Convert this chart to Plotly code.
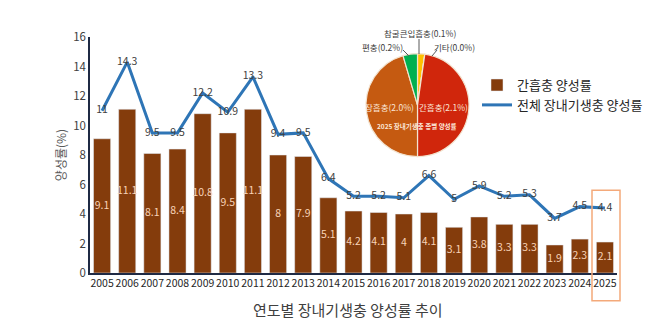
import plotly.graph_objects as go

years = [str(y) for y in range(2005, 2026)]
clonorchis = [9.1, 11.1, 8.1, 8.4, 10.8, 9.5, 11.1, 8, 7.9, 5.1, 4.2, 4.1, 4, 4.1, 3.1, 3.8, 3.3, 3.3, 1.9, 2.3, 2.1]
total = [11, 14.3, 9.5, 9.5, 12.2, 10.9, 13.3, 9.4, 9.5, 6.4, 5.2, 5.2, 5.1, 6.6, 5, 5.9, 5.2, 5.3, 3.7, 4.5, 4.4]

pie_labels = ["참굴큰입흡충", "기타", "간흡충", "장흡충", "편충"]
pie_values = [0.1, 0.0, 2.1, 2.0, 0.2]
pie_colors = ["#ffc000", "#a5a5a5", "#d0260c", "#c55a11", "#00b050"]

FONT = "Noto Sans CJK KR"

# pixel -> paper helpers (plot area: x 90..617, y 37..272.7)
L, R, T, B = 90, 617, 37, 272.7
def px(x):
    return (x - L) / (R - L)
def py(y):
    return (B - y) / (B - T)

fig = go.Figure()
fig.add_trace(go.Bar(x=years, y=clonorchis, name="간흡충 양성률", marker_color="#843c0c",
                     width=0.68, showlegend=True))
fig.add_trace(go.Scatter(x=years, y=[v / 2 for v in clonorchis], mode="text",
                         text=[f"{v:g}" for v in clonorchis], textposition="middle center",
                         textfont=dict(family=FONT, size=10.5, color="#f8d3b8"),
                         showlegend=False, hoverinfo="skip"))
fig.add_trace(go.Scatter(x=years, y=total, name="전체 장내기생충 양성률", mode="lines+text",
                         line=dict(color="#2e75b6", width=3),
                         text=[f"{v:g}" for v in total], textposition="middle center",
                         textfont=dict(family=FONT, size=10.5, color="#404040")))

fig.add_trace(go.Pie(labels=pie_labels, values=pie_values, sort=False, direction="clockwise",
                     rotation=0, marker=dict(colors=pie_colors, line=dict(color="#f3e3cf", width=1.2)),
                     textinfo="none", hoverinfo="label+value", showlegend=False,
                     domain=dict(x=[px(366), px(469)], y=[py(157), py(53)])))

annots = []
# pie outside labels
annots.append(dict(x=px(420), y=py(33), text="참굴큰입흡충(0.1%)", showarrow=False,
                   font=dict(family=FONT, size=8.5, color="#404040")))
annots.append(dict(x=px(382), y=py(47), text="편충(0.2%)", showarrow=False,
                   font=dict(family=FONT, size=8.5, color="#404040")))
annots.append(dict(x=px(454), y=py(47), text="기타(0.0%)", showarrow=False,
                   font=dict(family=FONT, size=8.5, color="#404040")))
# inside labels
annots.append(dict(x=px(389), y=py(107), text="장흡충(2.0%)", showarrow=False,
                   font=dict(family=FONT, size=8.5, color="#fbe5d6")))
annots.append(dict(x=px(443), y=py(107), text="간흡충(2.1%)", showarrow=False,
                   font=dict(family=FONT, size=8.5, color="#fbe5d6")))
annots.append(dict(x=px(417), y=py(126), text="<b>2025 장내기생충 종별 양성률</b>", showarrow=False,
                   font=dict(family=FONT, size=6.5, color="#fbe5d6")))
# x-axis title
annots.append(dict(x=px(347), y=py(309), text="연도별 장내기생충 양성률 추이", showarrow=False,
                   font=dict(family=FONT, size=15, color="#404040")))

for a in annots:
    a.update(xref="paper", yref="paper", xanchor="center", yanchor="middle")

shapes = [
    # leader lines
    dict(type="line", xref="paper", yref="paper", x0=px(419), y0=py(39), x1=px(419), y1=py(54),
         line=dict(color="#595959", width=1)),
    dict(type="line", xref="paper", yref="paper", x0=px(403), y0=py(50), x1=px(409), y1=py(56),
         line=dict(color="#595959", width=1)),
    dict(type="line", xref="paper", yref="paper", x0=px(437), y0=py(50), x1=px(432), y1=py(56),
         line=dict(color="#595959", width=1)),
    # highlight box for 2025
    dict(type="rect", xref="paper", yref="paper", x0=px(592), y0=py(190), x1=px(620), y1=py(300.5),
         line=dict(color="#f4a97a", width=1.5), fillcolor="rgba(0,0,0,0)"),
]

fig.update_layout(
    width=650, height=325,
    margin=dict(l=L, r=650 - R, t=T, b=325 - B, autoexpand=False),
    paper_bgcolor="white", plot_bgcolor="white",
    font=dict(family=FONT, color="#404040"),
    annotations=annots, shapes=shapes,
    legend=dict(x=px(477), y=py(70), xanchor="left", yanchor="top",
                font=dict(family=FONT, size=13, color="#262626"),
                bgcolor="rgba(0,0,0,0)", tracegroupgap=2, itemwidth=30),
    xaxis=dict(type="category", range=[-0.48, 20.48], showgrid=False, showline=True,
               linecolor="#1f2a44", linewidth=1.5, ticks="", tickangle=0,
               tickfont=dict(family=FONT, size=10.5, color="#262626")),
    yaxis=dict(range=[0, 16], dtick=2, showgrid=False, showline=True, zeroline=False,
               linecolor="#1f2a44", linewidth=1.5, ticks="",
               tickfont=dict(family=FONT, size=11.5, color="#404040"),
               title=dict(text="양성률(%)", font=dict(family=FONT, size=12, color="#595959"), standoff=4)),
)

fig.write_html("out.html")
